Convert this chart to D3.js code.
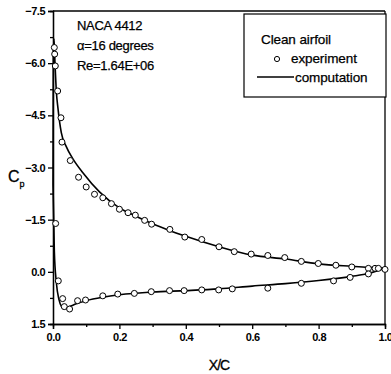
<!DOCTYPE html>
<html>
<head>
<meta charset="utf-8">
<title>NACA 4412 Cp distribution</title>
<script src="https://cdn.jsdelivr.net/npm/d3@7"></script>
<style>
  body { margin: 0; background: #fff; }
  svg text { font-family: "Liberation Sans", Arial, sans-serif; fill: #000; }
  .tick text { font-size: 11px; font-weight: bold; letter-spacing: -0.5px; fill: #000; }
  .axis path, .axis line { stroke: #000; stroke-width: 1.3; }
  .note { font-size: 13px; letter-spacing: -0.3px; stroke: #000; stroke-width: 0.25; }
  .leg { font-size: 13.5px; letter-spacing: -0.1px; stroke: #000; stroke-width: 0.25; }
</style>
</head>
<body>
<div id="chart"></div>
<script>
// computation - upper (suction) surface
const upperCompX = [0, 0.001, 0.003, 0.006, 0.01, 0.015, 0.025, 0.04, 0.06, 0.09, 0.14, 0.2, 0.25, 0.3, 0.35, 0.4, 0.5, 0.6, 0.7, 0.8, 0.9, 0.95, 1.0];
const upperCompCp = [-2.5, -6.2, -6.7, -6.0, -5.2, -4.7, -4.0, -3.6, -3.25, -2.85, -2.3, -1.84, -1.6, -1.38, -1.19, -1.02, -0.72, -0.48, -0.37, -0.23, -0.16, -0.13, -0.11];

// computation - lower (pressure) surface
const lowerCompX = [0, 0.004, 0.01, 0.018, 0.026, 0.035, 0.05, 0.07, 0.1, 0.15, 0.2, 0.3, 0.4, 0.5, 0.6, 0.7, 0.8, 0.9, 0.95, 1.0];
const lowerCompCp = [-2.5, -0.6, 0.3, 0.8, 1.0, 1.05, 1.0, 0.92, 0.83, 0.73, 0.66, 0.58, 0.54, 0.49, 0.41, 0.34, 0.25, 0.13, 0.05, -0.1];

// experiment - upper surface
const upperExpX = [0.004, 0.005, 0.007, 0.014, 0.024, 0.027, 0.052, 0.077, 0.1, 0.125, 0.15, 0.176, 0.2, 0.226, 0.248, 0.276, 0.297, 0.352, 0.397, 0.448, 0.5, 0.546, 0.597, 0.647, 0.698, 0.748, 0.799, 0.852, 0.9, 0.95, 0.97, 0.98, 1.0];
const upperExpCp = [-6.45, -6.26, -5.92, -5.2, -4.43, -3.73, -3.2, -2.72, -2.44, -2.23, -2.13, -1.96, -1.8, -1.7, -1.63, -1.48, -1.37, -1.22, -1.0, -0.93, -0.72, -0.58, -0.51, -0.47, -0.41, -0.3, -0.24, -0.19, -0.14, -0.1, -0.1, -0.1, -0.07];

// experiment - lower surface
const lowerExpX = [0.008, 0.016, 0.029, 0.034, 0.05, 0.074, 0.098, 0.15, 0.195, 0.245, 0.296, 0.351, 0.395, 0.448, 0.499, 0.54, 0.647, 0.748, 0.845, 0.895, 0.95];
const lowerExpCp = [-1.39, 0.26, 0.77, 1.0, 1.07, 0.83, 0.81, 0.69, 0.64, 0.62, 0.57, 0.54, 0.54, 0.52, 0.52, 0.49, 0.47, 0.33, 0.26, 0.16, 0.06];

const xTicks = [0, 0.2, 0.4, 0.6, 0.8, 1.0];
const yTicks = [-7.5, -6.0, -4.5, -3.0, -1.5, 0.0, 1.5];
const notes = ["NACA 4412", "\u03b1=16 degrees", "Re=1.64E+06"];

const W = 391, H = 374;
const margin = { top: 11, right: 6, bottom: 50, left: 53 };
const pw = W - margin.left - margin.right;
const ph = H - margin.top - margin.bottom;

const svg = d3.select("#chart").append("svg")
  .attr("width", W).attr("height", H);
const g = svg.append("g").attr("transform", `translate(${margin.left},${margin.top})`);

const x = d3.scaleLinear().domain([0, 1]).range([0, pw]);
const y = d3.scaleLinear().domain([-7.5, 1.5]).range([0, ph]);

// frame (top and right)
g.append("line").attr("x1", 0).attr("x2", pw).attr("y1", 0).attr("y2", 0)
  .attr("stroke", "#000").attr("stroke-width", 1.3);
g.append("line").attr("x1", pw).attr("x2", pw).attr("y1", 0).attr("y2", ph)
  .attr("stroke", "#000").attr("stroke-width", 1.3);

// minor ticks
g.append("g").attr("class", "axis").attr("transform", `translate(0,${ph})`)
  .call(d3.axisBottom(x).tickValues(d3.range(0.1, 1, 0.2)).tickSize(3).tickFormat(""));
g.append("g").attr("class", "axis")
  .call(d3.axisLeft(y).tickValues(d3.range(-6.75, 1.5, 1.5)).tickSize(3).tickFormat(""));

// main axes
g.append("g").attr("class", "axis").attr("transform", `translate(0,${ph})`)
  .call(d3.axisBottom(x).tickValues(xTicks).tickSize(5).tickPadding(4).tickFormat(d3.format(".1f")));
g.append("g").attr("class", "axis")
  .call(d3.axisLeft(y).tickValues(yTicks).tickSize(5).tickPadding(3).tickFormat(d3.format(".1f")));

// axis titles
svg.append("text").attr("x", margin.left + x(0.5)).attr("y", 370)
  .attr("text-anchor", "middle").style("font-size", "14px").style("letter-spacing", "-1px")
  .style("stroke", "#000").style("stroke-width", 0.3)
  .text("X/C");
const cp = svg.append("text").attr("x", 8).attr("y", 182)
  .style("font-size", "16px").style("stroke", "#000").style("stroke-width", 0.3);
cp.append("tspan").text("C");
cp.append("tspan").attr("dy", 5).style("font-size", "9px").text("p");

// computation lines
const line = d3.line().x(d => x(d[0])).y(d => y(d[1])).curve(d3.curveMonotoneX);
[[upperCompX, upperCompCp], [lowerCompX, lowerCompCp]].forEach(([xs, cs]) => {
  g.append("path").datum(xs.map((v, i) => [v, cs[i]]))
    .attr("fill", "none").attr("stroke", "#000").attr("stroke-width", 1.6)
    .attr("d", line);
});

// experiment points
const pts = upperExpX.map((v, i) => [v, upperExpCp[i]])
  .concat(lowerExpX.map((v, i) => [v, lowerExpCp[i]]));
g.selectAll(".dot").data(pts).enter().append("circle")
  .attr("class", "dot")
  .attr("cx", d => x(d[0])).attr("cy", d => y(d[1])).attr("r", 3)
  .attr("fill", "#fff").attr("stroke", "#000").attr("stroke-width", 1);

// annotation
svg.selectAll(".note").data(notes).enter().append("text")
  .attr("class", "note")
  .attr("x", 77).attr("y", (d, i) => 30 + i * 20)
  .text(d => d);

// legend
const lg = svg.append("g");
lg.append("rect").attr("x", 244).attr("y", 14).attr("width", 142).attr("height", 83)
  .attr("fill", "#fff").attr("stroke", "#000").attr("stroke-width", 1.2);
lg.append("text").attr("class", "leg").attr("x", 261).attr("y", 44).text("Clean airfoil");
lg.append("circle").attr("cx", 277).attr("cy", 59).attr("r", 2.6)
  .attr("fill", "#fff").attr("stroke", "#000").attr("stroke-width", 1);
lg.append("text").attr("class", "leg").attr("x", 291).attr("y", 63).text("experiment");
lg.append("line").attr("x1", 257).attr("x2", 294).attr("y1", 77).attr("y2", 77)
  .attr("stroke", "#000").attr("stroke-width", 1.3);
lg.append("text").attr("class", "leg").attr("x", 295).attr("y", 82).text("computation");
</script>
</body>
</html>
